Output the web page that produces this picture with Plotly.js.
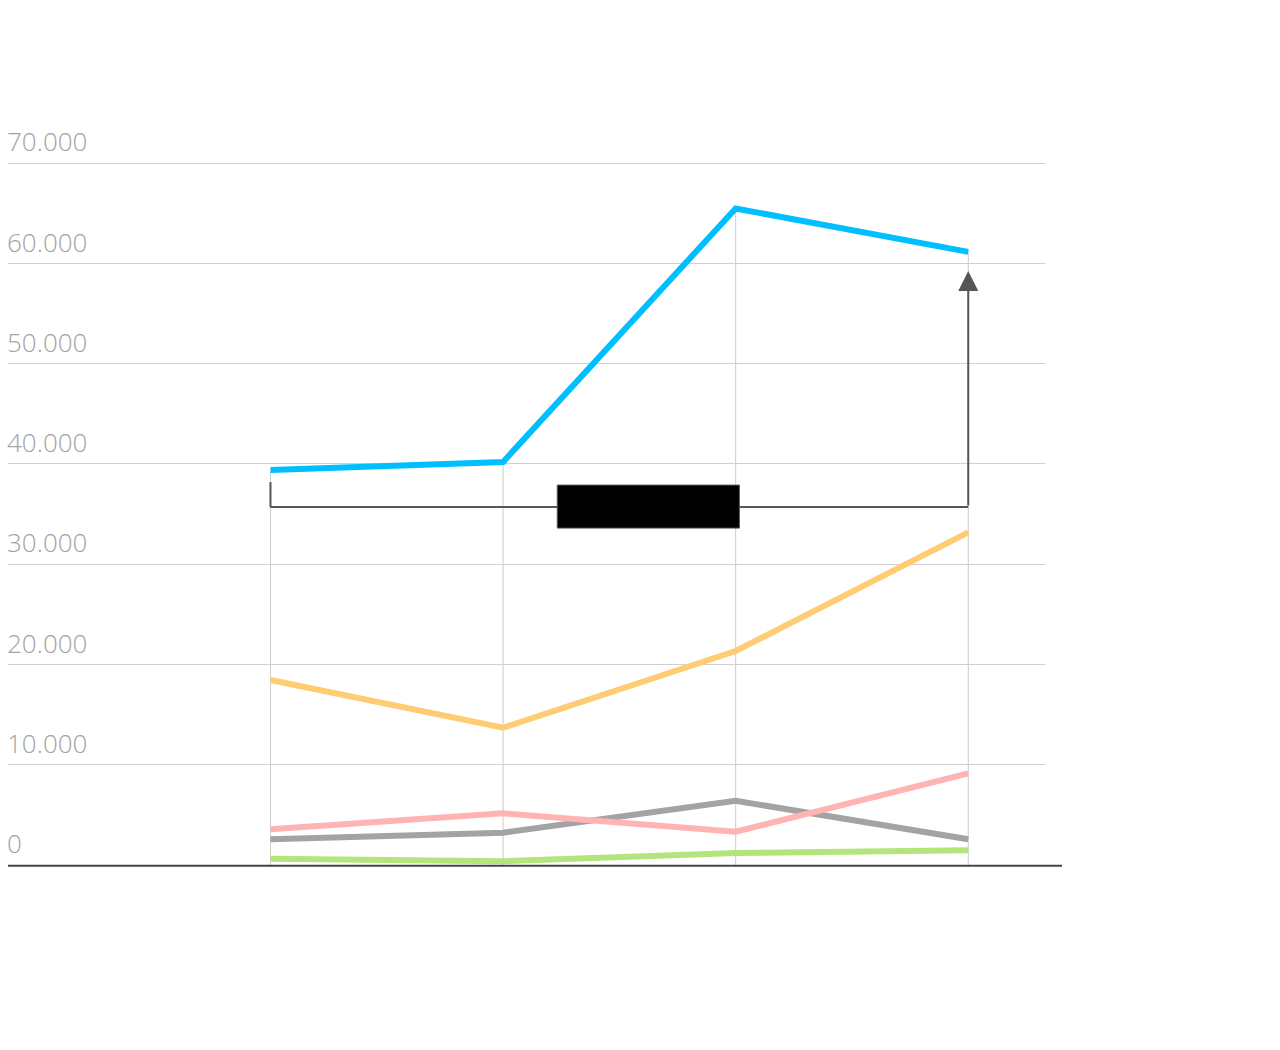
<!DOCTYPE html>
<html>
<head>
<meta charset="utf-8">
<script src="https://cdn.plot.ly/plotly-3.0.1.min.js"></script>
<style>html,body{margin:0;padding:0;background:#fff;}#chart{width:1280px;height:1050px;}</style>
</head>
<body>
<div id="chart"></div>
<script>
// Period index (no tick labels shown in the reference)
const periods = [1, 2, 3, 4];
// Series values
const blueSeries   = [39400, 40200, 65480, 61150];
const orangeSeries = [18450, 13690, 21340, 33170];
const pinkSeries   = [3560, 5150, 3320, 9140];
const graySeries   = [2560, 3220, 6410, 2560];
const greenSeries  = [630, 370, 1200, 1460];
// Y tick values
const yTicks = [0, 10000, 20000, 30000, 40000, 50000, 60000, 70000];
// Bracket annotation levels
const bracketTop = 38190;
const bracketLevel = 35700;
const arrowTip = 59230;

function line(y, color) {
  return {
    x: periods, y: y, type: 'scatter', mode: 'lines',
    line: {color: color, width: 6}, hoverinfo: 'skip'
  };
}

const dropLines = {
  x: periods, y: blueSeries, type: 'scatter', mode: 'markers',
  marker: {size: 1, opacity: 0},
  error_y: {type: 'data', symmetric: false, array: blueSeries.map(() => 0),
            arrayminus: blueSeries, width: 0, color: '#cccccc', thickness: 1},
  hoverinfo: 'skip'
};

const data = [
  dropLines,
  line(greenSeries, '#b3e57a'),
  line(graySeries, '#a3a3a3'),
  line(pinkSeries, '#ffb3b3'),
  line(orangeSeries, '#ffcc73'),
  line(blueSeries, '#00bfff')
];

const layout = {
  width: 1280, height: 1050,
  margin: {l: 8, r: 235, t: 113, b: 185},
  paper_bgcolor: '#ffffff', plot_bgcolor: '#ffffff',
  showlegend: false, hovermode: false,
  separators: ',.',
  xaxis: {
    type: 'linear', range: [-0.1285, 4.33],
    showgrid: false, zeroline: false, showticklabels: false,
    ticks: '', showline: false, fixedrange: true
  },
  yaxis: {
    range: [0, 75000], tickvals: yTicks, tickformat: ',d',
    showgrid: true, gridcolor: '#d0d0d0', gridwidth: 1,
    zeroline: false, showline: false, ticks: '',
    ticklabelposition: 'inside', ticklabelshift: -21, ticklabelstandoff: -4,
    tickfont: {family: 'Open Sans', size: 26, color: '#a3a3a3', weight: 300},
    fixedrange: true
  },
  shapes: [
    {type: 'line', xref: 'paper', yref: 'paper', x0: 0, x1: 1.0164, y0: -0.001, y1: -0.001,
     line: {color: '#444444', width: 2}},
    {type: 'line', xref: 'x', yref: 'y', x0: periods[0], x1: periods[0], y0: bracketTop, y1: bracketLevel,
     line: {color: '#555555', width: 2}},
    {type: 'line', xref: 'x', yref: 'y', x0: periods[0], x1: periods[3], y0: bracketLevel, y1: bracketLevel,
     line: {color: '#555555', width: 2}},
    {type: 'rect', xref: 'x', yref: 'y', x0: 2.233, x1: 3.016, y0: 33600, y1: 37890,
     fillcolor: '#000000', line: {color: '#555555', width: 1}}
  ],
  annotations: [
    {x: periods[3], y: arrowTip, xref: 'x', yref: 'y', ax: periods[3], ay: bracketLevel,
     axref: 'x', ayref: 'y', text: '', showarrow: true, arrowhead: 2, arrowsize: 2,
     arrowwidth: 2, arrowcolor: '#555555', standoff: 0, startstandoff: 0}
  ]
};

Plotly.newPlot('chart', data, layout, {displayModeBar: false, staticPlot: true});
</script>
</body>
</html>
